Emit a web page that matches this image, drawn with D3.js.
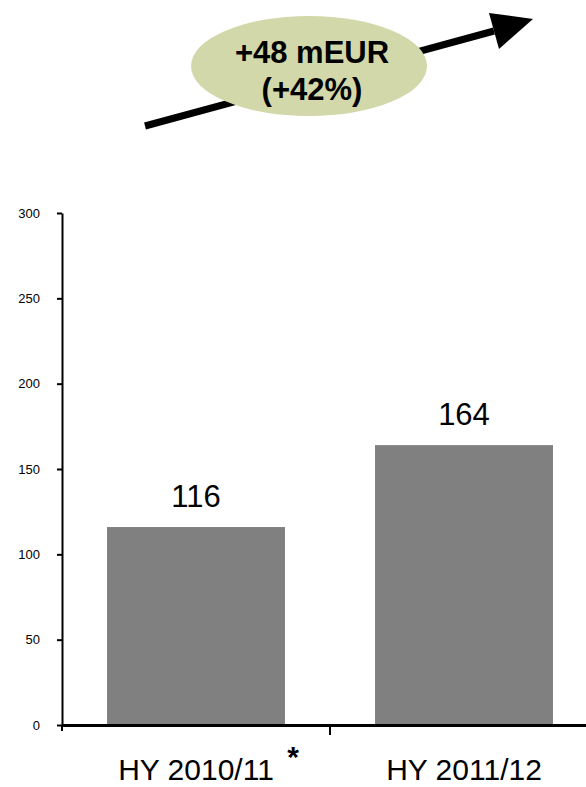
<!DOCTYPE html>
<html>
<head>
<meta charset="utf-8">
<script src="https://cdn.jsdelivr.net/npm/d3@7"></script>
<style>
  body { margin: 0; background: #fff; }
  svg { display: block; font-family: "Liberation Sans", Arial, sans-serif; }
</style>
</head>
<body>
<svg id="chart"></svg>
<script>
// data
const categories = ["HY 2010/11", "HY 2011/12"];
const values = [116, 164];
const yTicks = [0, 50, 100, 150, 200, 250, 300];
const deltaLines = ["+48 mEUR", "(+42%)"];

const width = 586, height = 787;
const margin = { top: 213, right: -12, bottom: 62, left: 62 };

const svg = d3.select("#chart")
  .attr("width", width)
  .attr("height", height)
  .attr("viewBox", [0, 0, width, height]);

const x = d3.scaleBand()
  .domain(categories)
  .range([margin.left, width - margin.right])
  .paddingInner(0.336)
  .paddingOuter(0.168);

const y = d3.scaleLinear()
  .domain([0, 300])
  .range([height - margin.bottom, margin.top]);

// bars
svg.selectAll(".bar")
  .data(values)
  .join("rect")
    .attr("class", "bar")
    .attr("x", (d, i) => x(categories[i]))
    .attr("y", d => y(d))
    .attr("width", x.bandwidth())
    .attr("height", d => y(0) - y(d))
    .attr("fill", "#808080");

svg.selectAll(".val")
  .data(values)
  .join("text")
    .attr("class", "val")
    .attr("x", (d, i) => x(categories[i]) + x.bandwidth() / 2)
    .attr("y", d => y(d) - 20)
    .attr("text-anchor", "middle")
    .attr("font-size", 31)
    .text(d => d);

// y axis
svg.append("g")
  .attr("transform", `translate(${margin.left},0)`)
  .call(d3.axisLeft(y).tickValues(yTicks).tickSize(5).tickSizeOuter(0).tickPadding(17))
  .call(g => {
    g.select(".domain").attr("stroke-width", 2);
    g.selectAll(".tick line").attr("stroke-width", 2);
    g.selectAll(".tick text")
      .attr("font-size", 13)
      .attr("font-family", "Liberation Sans, Arial, sans-serif")
      .attr("fill", "#000");
  });

// x axis
const step = x.step();
const xBounds = categories.map(c => x(c) - x.paddingOuter() * step);
svg.append("g")
  .attr("transform", `translate(0,${y(0)})`)
  .call(d3.axisBottom(x).tickSize(0).tickSizeOuter(0).tickFormat(""))
  .call(g => {
    g.select(".domain").attr("stroke-width", 3);
    g.selectAll(".tick").remove();
  })
  .selectAll(".xtick")
  .data(xBounds)
  .join("line")
    .attr("class", "xtick")
    .attr("x1", d => d).attr("x2", d => d)
    .attr("y1", 0).attr("y2", (d, i) => i === 0 ? 6 : 10)
    .attr("stroke", "#000")
    .attr("stroke-width", 2);

svg.selectAll(".xlab")
  .data(categories)
  .join("text")
    .attr("class", "xlab")
    .attr("x", d => x(d) + x.bandwidth() / 2)
    .attr("y", y(0) + 55)
    .attr("text-anchor", "middle")
    .attr("font-size", 30)
    .text(d => d);

// asterisk after first label
svg.append("text")
  .attr("x", x(categories[0]) + x.bandwidth() + 8)
  .attr("y", y(0) + 42)
  .attr("text-anchor", "middle")
  .attr("font-size", 30)
  .attr("font-weight", "bold")
  .text("*");

// growth arrow + bubble
const ann = svg.append("g");
ann.append("line")
  .attr("x1", 145).attr("y1", 126)
  .attr("x2", 494).attr("y2", 31)
  .attr("stroke", "#000")
  .attr("stroke-width", 7);
ann.append("path")
  .attr("d", "M533,19 L489,13 L499,49 Z")
  .attr("fill", "#000");
ann.append("ellipse")
  .attr("cx", 309).attr("cy", 66)
  .attr("rx", 118).attr("ry", 50)
  .attr("fill", "#d2d8a9");
ann.selectAll(".delta")
  .data(deltaLines)
  .join("text")
    .attr("class", "delta")
    .attr("x", 312)
    .attr("y", (d, i) => 63 + i * 37)
    .attr("text-anchor", "middle")
    .attr("font-size", 31)
    .attr("font-weight", "bold")
    .text(d => d);
</script>
</body>
</html>
